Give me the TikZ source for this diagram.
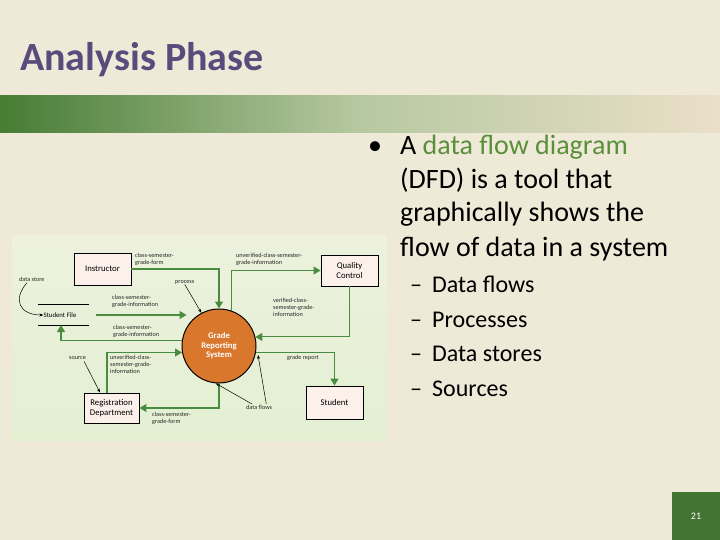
\documentclass[tikz,border=0pt]{standalone}
\usepackage{fontspec}
\setmainfont{Carlito}
\usetikzlibrary{arrows.meta,shadings}
\definecolor{bg}{HTML}{EFEAD8}
\definecolor{ttl}{HTML}{5B4A7C}
\definecolor{gr}{HTML}{4E8A3A}
\definecolor{dfg}{HTML}{4A8C3F}
\definecolor{orng}{HTML}{D9782D}
\definecolor{boxf}{HTML}{FBF1EA}
\definecolor{tgreen}{HTML}{5A8F3C}
\tikzset{
 ent/.style={draw=black,line width=0.9pt,fill=boxf,font=\fontsize{8.7}{9.5}\selectfont,align=center,inner sep=0pt},
 flow/.style={draw=dfg,line width=1.1pt,-{Triangle[length=7pt,width=8pt]}},
 ptr/.style={draw=black,line width=0.5pt,-{Stealth[length=4pt]}},
 lbl/.style={font=\fontsize{6.2}{7}\selectfont,align=left,inner sep=0pt,anchor=north west,text=black!85},
 btxt/.style={font=\fontsize{28}{33.5}\selectfont,anchor=base west,inner sep=0pt},
 stxt/.style={font=\fontsize{24}{28}\selectfont,anchor=base west,inner sep=0pt}
}
\begin{document}
\begin{tikzpicture}[x=1pt,y=-1pt]
\useasboundingbox (0,0) rectangle (720,540);
\fill[bg] (0,0) rectangle (720,540);
\shade[left color=gr!90!black,right color=bg!90!brown,middle color=gr!35!bg] (0,96) rectangle (720,133);
\node[font=\bfseries\fontsize{40}{46}\selectfont,text=ttl,anchor=base west,inner sep=0pt] (title) at (20,71) {Analysis Phase};
% diagram background
\shade[top color=green!4!bg!70!white,bottom color=green!8!bg!80!white] (12,235) rectangle (387,440);
\node[ent,minimum width=57pt,minimum height=32pt] (instr) at (102.5,269) {Instructor};
\node[ent,minimum width=57pt,minimum height=31pt] (qc) at (349.5,270.5) {Quality\\Control};
\node[ent,minimum width=55pt,minimum height=30pt] (reg) at (111.5,408) {Registration\\Department};
\node[ent,minimum width=57pt,minimum height=33pt] (stu) at (334.5,402.5) {Student};
\node[circle,draw=black,line width=1pt,fill=orng,minimum size=74pt,inner sep=0pt,text=white,font=\bfseries\fontsize{8.7}{9.5}\selectfont,align=center] (grs) at (219,346) {Grade\\Reporting\\System};
\draw[line width=0.9pt] (38,304) -- (89,304) (38,325) -- (89,325);
\node[font=\fontsize{6.8}{7}\selectfont,inner sep=0pt] (sf) at (60,315) {Student File};
% flows
\draw[flow] (instr.east) -| (grs.north);
\draw[flow] (grs.70) |- (qc.west);
\draw[flow] (qc.south) |- (grs.14);
\draw[flow] (96,315) -- (grs.west |- 0,315) -- ++(5,0);
\coordinate (sfb) at (61,325);
\draw[flow] (grs.172) -| (sfb);
\draw[flow] (reg.north -| 107,0) |- (grs.190);
\draw[flow] (grs.south) |- (reg.east);
\draw[flow] (grs.-10) -| (stu.north);
% labels
\node[lbl] (l1) at (135,253) {class-semester-\\grade-form};
\node[lbl] (l2) at (236,253) {unverified-class-semester-\\grade-information};
\node[lbl] (l3) at (112,295) {class-semester-\\grade-information};
\node[lbl] (l4) at (113,325) {class-semester-\\grade-information};
\node[lbl] (l5) at (273,298) {verified-class-\\semester-grade-\\information};
\node[lbl] (l6) at (110,355) {unverified-class-\\semester-grade-\\information};
\node[lbl] (l7) at (287,355) {grade report};
\node[lbl] (l8) at (152,412) {class-semester-\\grade-form};
\node[lbl] (pr) at (175,280) {process};
\node[lbl] (ds) at (19,277) {data store};
\node[lbl] (so) at (69,356) {source};
\node[lbl] (df) at (246,405) {data flows};
\draw[ptr] (pr.south) -- (grs.118);
\draw[ptr] (ds.south west) ++(8,1) .. controls (12,300) and (20,315) .. (sf.west);
\draw[ptr] (so.south east) ++(-2,2) -- (reg.north -| 100,0);
\draw[ptr] (df.north west) ++(6,-1) -- (grs.-95);
\draw[ptr] (df.north east) ++(-6,-1) -- (258,355);
% right text
\node[btxt] (bul) at (368,155) {•};
\node[btxt] (t1) at (400,155) {A \textcolor{tgreen}{data flow diagram}};
\node[btxt] (t2) at (400,189) {(DFD) is a tool that};
\node[btxt] (t3) at (400,222) {graphically shows the};
\node[btxt] (t4) at (400,256) {flow of data in a system};
\foreach \y/\t [count=\i] in {292/Data flows,327/Processes,361/Data stores,396/Sources}{
 \node[stxt] (d\i) at (410,\y) {–};
 \node[stxt] (s\i) at (432,\y) {\t};
}
\fill[gr!85!black] (672,492) rectangle (720,540);
\node[text=white,font=\fontsize{10}{12}\selectfont] (pg) at (696,516) {21};
\end{tikzpicture}
\end{document}
